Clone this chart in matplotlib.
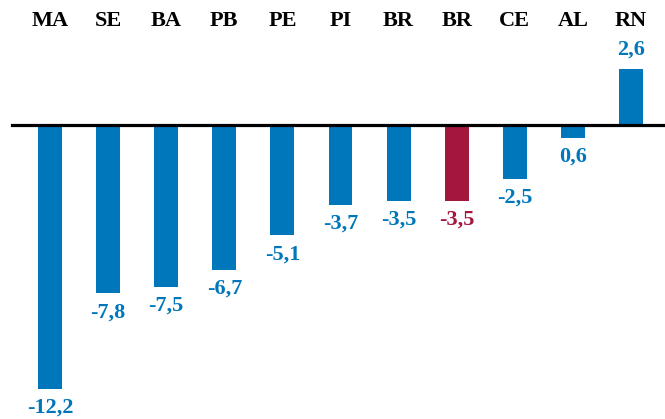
import matplotlib
matplotlib.use("Agg")
import matplotlib.pyplot as plt

categories = ["MA", "SE", "BA", "PB", "PE", "PI", "BR", "BR", "CE", "AL", "RN"]
values = [-12.2, -7.8, -7.5, -6.7, -5.1, -3.7, -3.5, -3.5, -2.5, -0.6, 2.6]
value_labels = ["-12,2", "-7,8", "-7,5", "-6,7", "-5,1", "-3,7", "-3,5", "-3,5", "-2,5", "0,6", "2,6"]
highlight = [False, False, False, False, False, False, False, True, False, False, False]

BLUE = "#0077BB"
RED = "#A3173D"

plt.rcParams['font.family'] = ['Liberation Serif', 'DejaVu Serif']

fig = plt.figure(figsize=(6.65, 4.19), dpi=100)
ax = fig.add_axes([0, 0, 1, 1])
ax.set_xlim(-0.86, 10.585)
ax.set_ylim(-13.61, 5.787)
ax.axis('off')

x = list(range(len(categories)))
colors = [RED if h else BLUE for h in highlight]
ax.bar(x, values, width=0.41, color=colors, zorder=2)
ax.axhline(0, xmin=12/665, xmax=1, color='black', linewidth=2.3, zorder=3)

for xi, cat in zip(x, categories):
    ax.text(xi, 1 - 21/419, cat, transform=ax.get_xaxis_transform(), ha='center', va='center',
            fontsize=16, fontweight='bold', color='black')

for xi, v, lab, c in zip(x, values, value_labels, colors):
    off = 19 if v > 0 else -19
    ax.annotate(lab, (xi, v), xytext=(0, off * 0.72), textcoords='offset points',
                ha='center', va='center', fontsize=16, fontweight='bold', color=c)

fig.savefig("out.png", dpi=100)
